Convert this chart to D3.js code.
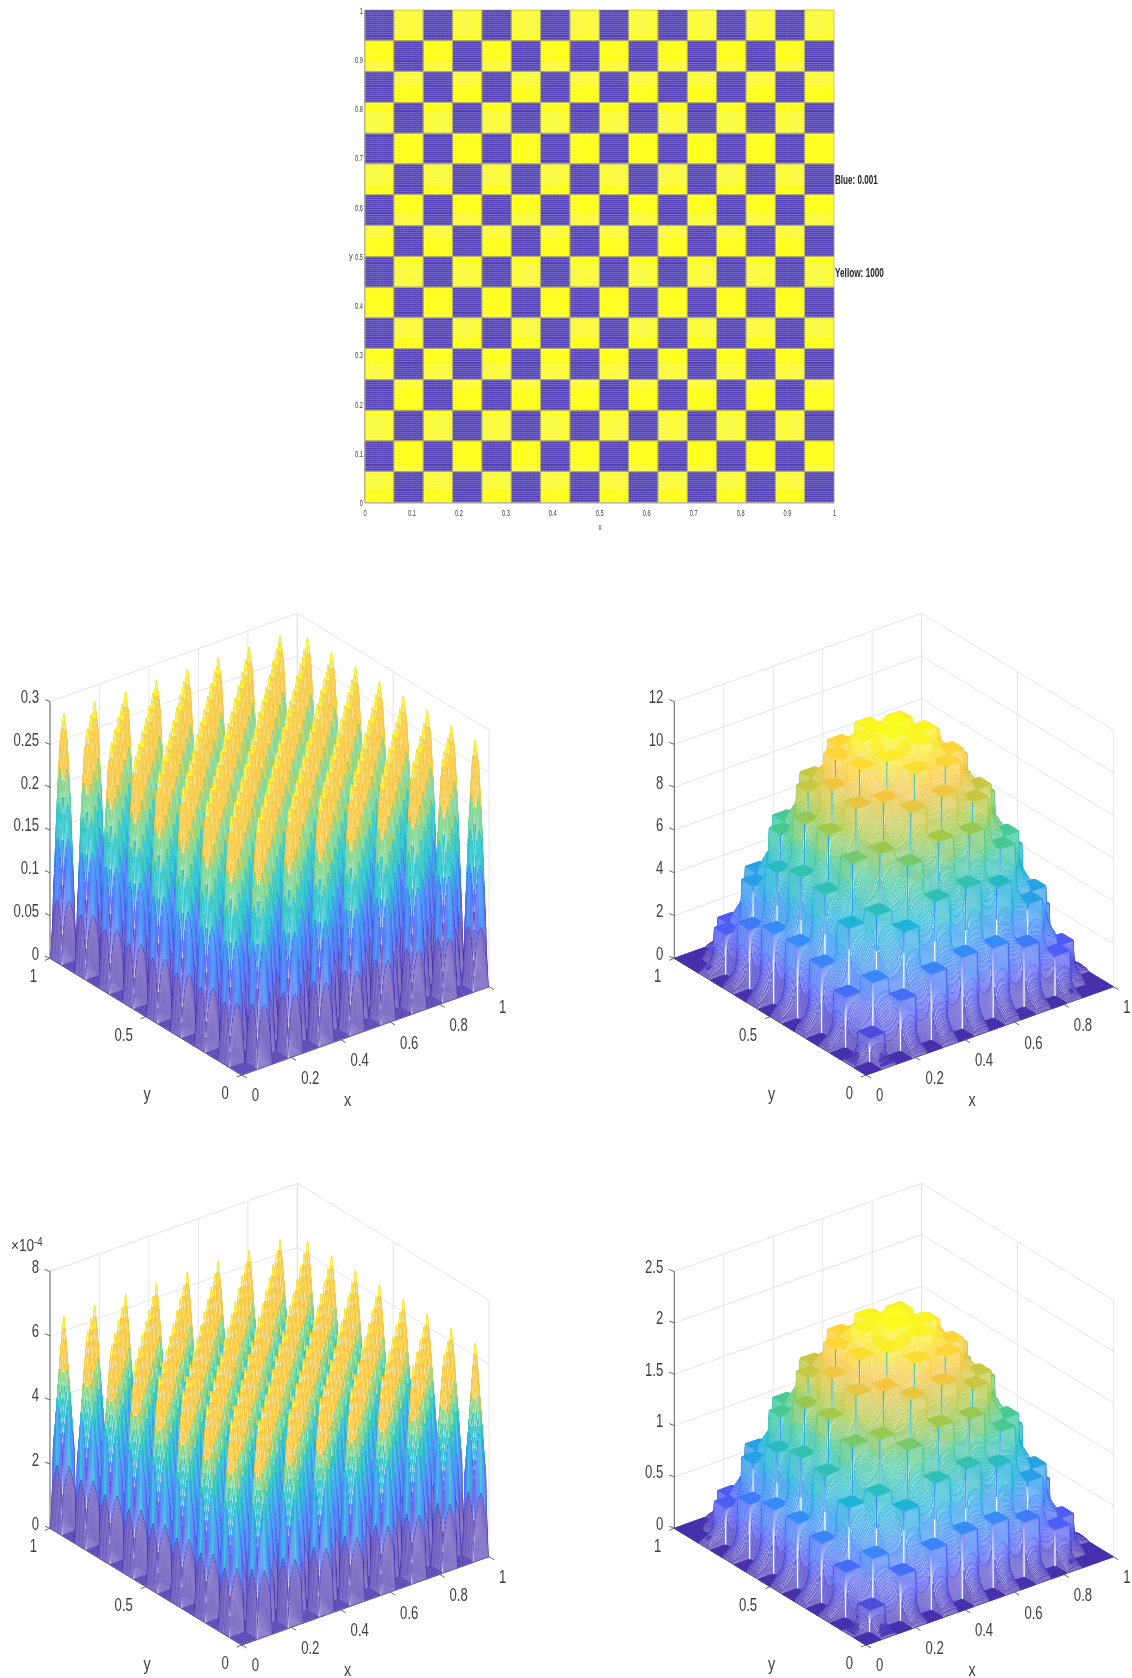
<!DOCTYPE html>
<html><head><meta charset="utf-8">
<script src="https://cdn.jsdelivr.net/npm/d3@7"></script>
<style>
html,body{margin:0;padding:0;background:#fff;width:1132px;height:1678px;overflow:hidden}
canvas,svg{position:absolute;left:0;top:0;filter:blur(.45px)}
text{font-family:"Liberation Sans",Arial,sans-serif;fill:#404040}
</style></head><body>
<canvas id="c" width="1132" height="1678"></canvas>
<svg id="s" width="1132" height="1678"></svg>
<script>
// ---------- data ----------
const boardRows = ["BYBYBYBYBYBYBYBY","YBYBYBYBYBYBYBYB","BYBYBYBYBYBYBYBY","YBYBYBYBYBYBYBYB",
 "BYBYBYBYBYBYBYBY","YBYBYBYBYBYBYBYB","BYBYBYBYBYBYBYBY","YBYBYBYBYBYBYBYB",
 "BYBYBYBYBYBYBYBY","YBYBYBYBYBYBYBYB","BYBYBYBYBYBYBYBY","YBYBYBYBYBYBYBYB",
 "BYBYBYBYBYBYBYBY","YBYBYBYBYBYBYBYB","BYBYBYBYBYBYBYBY","YBYBYBYBYBYBYBYB"];
const boardTicks = [0,.1,.2,.3,.4,.5,.6,.7,.8,.9,1];
const xTicks = [0,.2,.4,.6,.8,1];
const yTicks = [0,.5,1];
const zTicksA = [0,.05,.1,.15,.2,.25,.3];
const zTicksB = [0,2,4,6,8,10,12];
const zTicksC = [0,2,4,6,8];
const zTicksD = [0,.5,1,1.5,2,2.5];
const parula = ["#3e26a8","#4852f4","#2d87f7","#12b1d6","#37c897","#abc739","#fec338","#f9fb15"];
const bandEdges = [.24,.35,.45,.63,.73,.93];
const bandColors = ["#3e26a8","#4360f2","#2d87f7","#1fbfc9","#6fd38c","#f6c63a","#f6e628"];
// peak height of each blue cell and the section of a peak across a cell
const peakA = 0.2875, peakC = 6.63;
const sectionA = [0,.50,.78,.94,1,.94,.78,.50,0];
const sectionC = [0,.62,.76,.90,1,.90,.76,.62,0];
// plateau heights of the yellow cells, rows by y index, columns by x index
const oddB = [[1.1,2.33,3.07,3.34,3.27,2.77,1.85],[2.33,5.64,7.41,8.05,7.89,6.68,4.19],[3.07,7.41,9.73,10.58,10.37,8.78,5.5],
 [3.34,8.05,10.58,11.5,11.27,9.55,5.98],[3.27,7.89,10.37,11.27,11.04,9.35,5.86],[2.77,6.68,8.78,9.55,9.35,7.92,4.96],[1.85,4.19,5.5,5.98,5.86,4.96,3.11]];
const evenB = [[3.11,4.96,5.86,5.98,5.5,4.19,1.73],[4.96,7.92,9.35,9.55,8.78,6.68,2.77],[5.86,9.35,11.04,11.27,10.37,7.89,3.27],
 [5.98,9.55,11.27,11.5,10.58,8.05,3.34],[5.5,8.78,10.37,10.58,9.73,7.41,3.07],[4.19,6.68,7.89,8.05,7.41,5.64,2.33],[1.73,2.77,3.27,3.34,3.07,2.33,1.0]];
const oddD = [[.21,.44,.58,.63,.62,.53,.35],[.44,1.07,1.41,1.53,1.50,1.27,.80],[.58,1.41,1.85,2.01,1.97,1.67,1.05],
 [.63,1.53,2.01,2.18,2.14,1.81,1.14],[.62,1.50,1.97,2.14,2.10,1.78,1.11],[.53,1.27,1.67,1.81,1.78,1.50,.94],[.35,.80,1.05,1.14,1.11,.94,.59]];
const evenD = [[.59,.94,1.11,1.14,1.05,.80,.33],[.94,1.50,1.78,1.81,1.67,1.27,.53],[1.11,1.78,2.10,2.14,1.97,1.50,.62],
 [1.14,1.81,2.14,2.18,2.01,1.53,.63],[1.05,1.67,1.97,2.01,1.85,1.41,.58],[.80,1.27,1.50,1.53,1.41,1.07,.44],[.33,.53,.62,.63,.58,.44,.19]];

// ---------- page ----------
const svg = d3.select("#s"), ctx = document.getElementById("c").getContext("2d");
const NC = 16, SUB = 16, N = NC*SUB;
const label = (g,x,y,t,anchor,size,sx) => g.append("text")
  .attr("transform",`translate(${x},${y}) scale(${sx},1)`).attr("text-anchor",anchor)
  .attr("dy",".36em").attr("font-size",size).text(t);

// ---------- checkerboard ----------
(function(){
  const bx=[364.5,834], by=[502.5,10];
  const sx=d3.scaleLinear([0,1],bx), sy=d3.scaleLinear([0,1],by);
  const col=d3.scaleBand(d3.range(NC),bx), row=d3.scaleBand(d3.range(NC),[by[1],by[0]]);
  const base=d3.scaleOrdinal(["B","Y"],["#7f74d0","#ffff55"]);
  const ink=d3.scaleOrdinal(["B","Y"],["#3a22a6","#fbfb00"]);
  const cells=boardRows.flatMap((r,j)=>r.split("").map((k,i)=>({i,j,k})));
  const g=svg.append("g");
  g.selectAll("rect").data(cells).join("rect")
    .attr("x",d=>col(d.i)).attr("y",d=>row(d.j)).attr("width",col.bandwidth()).attr("height",row.bandwidth())
    .attr("fill",d=>base(d.k));
  ["B","Y"].forEach(k=>{
    const h=d3.path(), v=d3.path();
    cells.filter(d=>d.k===k).forEach(d=>{
      for(let m=0;m<=16;m++){
        const t=m/16;
        const yy=row(d.j)+t*row.bandwidth(), xx=col(d.i)+t*col.bandwidth();
        h.moveTo(col(d.i),yy);h.lineTo(col(d.i)+col.bandwidth(),yy);
        v.moveTo(xx,row(d.j));v.lineTo(xx,row(d.j)+row.bandwidth());
      }
    });
    g.append("path").attr("d",v.toString()).attr("fill","none").attr("stroke",ink(k)).attr("stroke-width",.3);
    g.append("path").attr("d",h.toString()).attr("fill","none").attr("stroke",ink(k)).attr("stroke-width",1)
      .attr("stroke-opacity",.55).attr("shape-rendering","crispEdges");
  });
  g.selectAll("rect.edge").data(cells).join("rect").attr("class","edge")
    .attr("x",d=>col(d.i)).attr("y",d=>row(d.j)).attr("width",col.bandwidth()).attr("height",row.bandwidth())
    .attr("fill","none").attr("stroke","#a9a76e").attr("stroke-width",.6);
  const fmt=d=>String(+d.toFixed(1));
  const ax=svg.append("g").attr("transform",`translate(0,${by[0]})`)
    .call(d3.axisBottom(sx).tickValues(boardTicks).tickFormat(fmt).tickSize(0).tickPadding(0));
  const ay=svg.append("g").attr("transform",`translate(${bx[0]},0)`)
    .call(d3.axisLeft(sy).tickValues(boardTicks).tickFormat(fmt).tickSize(0).tickPadding(0));
  ax.select(".domain").attr("stroke","#aaa"); ay.select(".domain").attr("stroke","#aaa");
  ax.selectAll("text").attr("font-size",9.5).attr("font-family",null).attr("y",0).attr("dy",0)
    .attr("transform","translate(0,10.5) scale(.6,1) translate(0,3)");
  ay.selectAll("text").attr("font-size",9.5).attr("font-family",null).attr("x",0).attr("dy",".32em")
    .attr("transform","translate(-1.5,0) scale(.6,1)");
  label(svg,600,527,"x","middle",9.5,.65);
  label(svg,351,256,"y","middle",9.5,.8);
  svg.append("text").attr("transform","translate(835,179) scale(.6,1)").attr("dy",".36em").attr("font-size",13.5)
    .attr("font-weight","bold").style("fill","#222").text("Blue: 0.001");
  svg.append("text").attr("transform","translate(835,272) scale(.61,1)").attr("dy",".36em").attr("font-size",13.5)
    .attr("font-weight","bold").style("fill","#222").text("Yellow: 1000");
})();

// ---------- 3-D surfaces ----------
function tileHeight(odd,even,i,j){
  if(i<1||j<1||i>14||j>14) return 0;
  if(i%2&&j%2) return odd[(j-1)/2][(i-1)/2];
  if(!(i%2)&&!(j%2)) return even[(j-2)/2][(i-2)/2];
  return 0;
}
function surfaceBumps(peak,section){
  const s=d3.scaleLinear().domain(section.map((_,k)=>k/(section.length-1))).range(section);
  return (a,b)=>{
    const i=Math.min(NC-1,Math.floor(a/SUB)), j=Math.min(NC-1,Math.floor(b/SUB));
    if((i+j)%2===0) return 0;
    const p=a/SUB-i, q=b/SUB-j;
    return peak*s(p)*s(q);
  };
}
function surfaceTiles(odd,even){
  const pw=.8;
  return (a,b)=>{
    const i=Math.min(NC-1,Math.floor(a/SUB)), j=Math.min(NC-1,Math.floor(b/SUB));
    if((i+j)%2===0) return tileHeight(odd,even,i,j);
    const p=a/SUB-i, q=b/SUB-j;
    const sides=[[p,tileHeight(odd,even,i-1,j)],[1-p,tileHeight(odd,even,i+1,j)],
                 [q,tileHeight(odd,even,i,j-1)],[1-q,tileHeight(odd,even,i,j+1)]];
    const on=sides.filter(d=>d[0]===0);
    if(on.length) return d3.mean(on,d=>d[1]);
    return d3.sum(sides,d=>d[1]/Math.pow(d[0],pw))/d3.sum(sides,d=>1/Math.pow(d[0],pw));
  };
}
const parulaScale=d3.scaleLinear().domain(parula.map((_,k)=>k/(parula.length-1))).range(parula);
const smooth=d3.range(256).map(k=>parulaScale(k/255));
const bands=d3.scaleThreshold(bandEdges,bandColors);

function plot(cfg){
  const ox=cfg.x, oy=cfg.y;
  const xPx=d3.scaleLinear([0,1],[0,247.3]), xPy=d3.scaleLinear([0,1],[0,-88.3]);
  const yPx=d3.scaleLinear([0,1],[0,-191.7]), yPy=d3.scaleLinear([0,1],[0,-116.7]);
  const zP=d3.scaleLinear([0,cfg.zMax],[0,-256.7]);
  const pt=(a,b,c)=>[ox+xPx(a)+yPx(b), oy+xPy(a)+yPy(b)+zP(c)];
  const seg=d3.line().context(ctx);
  const stroke=(pts,color,w)=>{ctx.beginPath();seg(pts);ctx.strokeStyle=color;ctx.lineWidth=w;ctx.stroke();};
  const grid="#e2e2e2";
  cfg.zTicks.forEach(z=>{stroke([pt(0,1,z),pt(1,1,z),pt(1,0,z)],grid,.9);});
  xTicks.forEach(a=>{stroke([pt(a,0,0),pt(a,1,0),pt(a,1,cfg.zMax)],grid,.9);});
  yTicks.forEach(b=>{stroke([pt(0,b,0),pt(1,b,0),pt(1,b,cfg.zMax)],grid,.9);});
  const axisC="#555";
  stroke([pt(0,1,0),pt(0,1,cfg.zMax)],axisC,.9);
  stroke([pt(0,0,0),pt(1,0,0)],axisC,.9);
  stroke([pt(0,0,0),pt(0,1,0)],axisC,.9);
  const zs=d3.range(N+1).map(a=>d3.range(N+1).map(b=>cfg.f(a,b)));
  const t=d3.scaleLinear([0,cfg.cMax],[0,1]).clamp(true);
  for(let a=N-1;a>=0;a--)for(let b=N-1;b>=0;b--){
    const z1=zs[a][b],z2=zs[a+1][b],z3=zs[a+1][b+1],z4=zs[a][b+1];
    const pts=[pt(a/N,b/N,z1),pt((a+1)/N,b/N,z2),pt((a+1)/N,(b+1)/N,z3),pt(a/N,(b+1)/N,z4)];
    ctx.beginPath();seg(pts);ctx.closePath();ctx.fillStyle="#fff";ctx.fill();
    const m=t((z1+z2+z3+z4)/4);
    if(!cfg.banded && (a+1)%SUB===0 && (b+1)%SUB===0 && z3-z1>.06*cfg.cMax){
      // the upper corner of a plateau lifted to the next plateau: a slit in the mesh
      if(z3>cfg.slit){
        const lo=Math.max(cfg.slit,z1);
        stroke([pt((a+1)/N,(b+1)/N,lo),pt((a+1)/N,(b+1)/N,z3)],smooth[Math.round(t(z3)*.55*255)],1);
      }
      continue;
    }
    const flat=Math.max(z1,z2,z3,z4)-Math.min(z1,z2,z3,z4)<.004*cfg.cMax;
    ctx.strokeStyle=cfg.banded?bands(m):smooth[Math.round(m*255)];
    ctx.lineWidth=cfg.banded?(m<bandEdges[0]?.5:cfg.lw):(flat?1:cfg.lw);
    ctx.stroke();
  }
  const g=svg.append("g");
  const tk=(p,d)=>g.append("line").attr("x1",p[0]).attr("y1",p[1]).attr("x2",p[0]+d[0]).attr("y2",p[1]+d[1])
    .attr("stroke","#555").attr("stroke-width",.9);
  xTicks.forEach(a=>{const p=pt(a,0,0);tk(p,[5,3]);label(g,p[0]+10,p[1]+20,String(a),"start",18,.73);});
  yTicks.forEach(b=>{const p=pt(0,b,0);tk(p,[-5,2]);label(g,p[0]-13,p[1]+17.5,String(b),"end",18,.73);});
  cfg.zTicks.forEach(z=>{const p=pt(0,1,z);tk(p,[-5,-2]);label(g,p[0]-11,p[1]-5,String(z),"end",18,.73);});
  label(g,ox+106,oy+25,"x","middle",18,.8);
  label(g,ox-94.5,oy+19,"y","middle",18,.8);
}
plot({x:241.7,y:1075,zMax:.3,zTicks:zTicksA,cMax:peakA,banded:true,lw:.75,f:surfaceBumps(peakA,sectionA)});
plot({x:866,y:1075,zMax:12,zTicks:zTicksB,cMax:11.5,banded:false,lw:.58,slit:4,f:surfaceTiles(oddB,evenB)});
plot({x:241.7,y:1645,zMax:8,zTicks:zTicksC,cMax:peakC,banded:true,lw:.75,f:surfaceBumps(peakC,sectionC)});
plot({x:866,y:1645,zMax:2.5,zTicks:zTicksD,cMax:2.18,banded:false,lw:.58,slit:.76,f:surfaceTiles(oddD,evenD)});
const ex=svg.append("text").attr("transform","translate(11,1245) scale(.8,1)").attr("dy",".36em").attr("font-size",17);
ex.append("tspan").text("×10");
ex.append("tspan").attr("dy","-.45em").attr("font-size",12).text("-4");
</script>
</body></html>
